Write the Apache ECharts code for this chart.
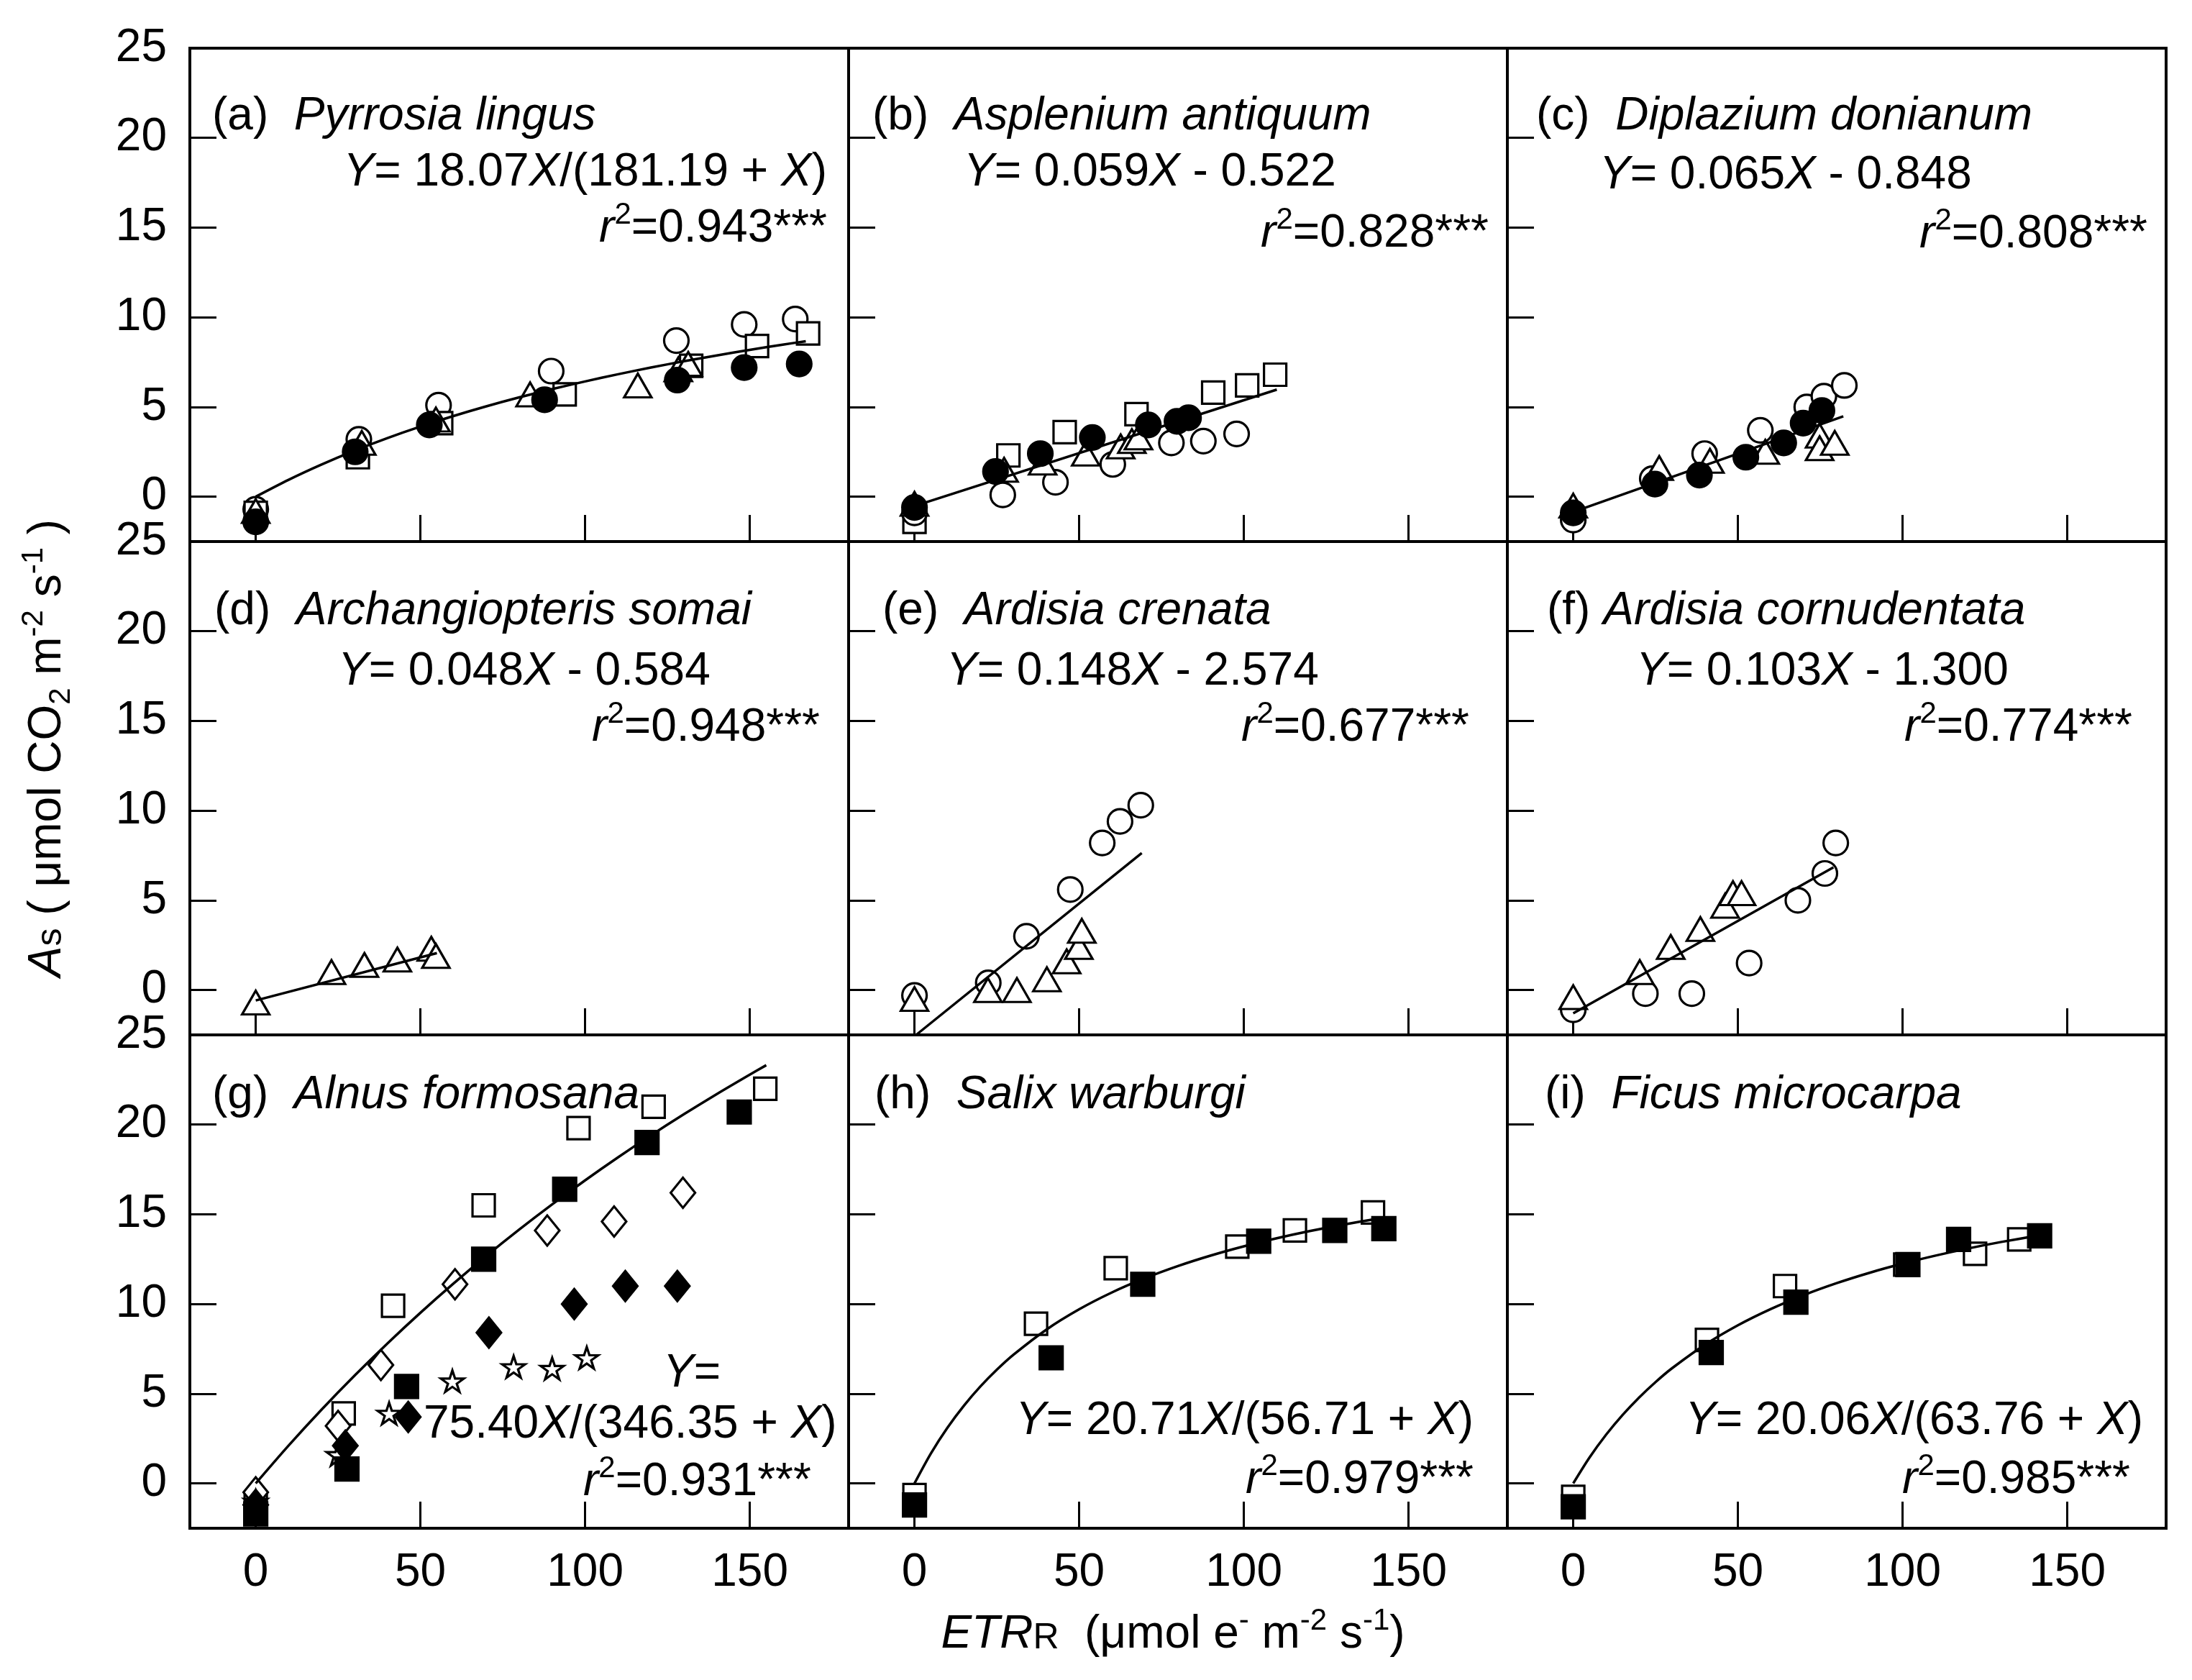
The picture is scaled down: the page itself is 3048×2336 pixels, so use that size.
<!DOCTYPE html>
<html><head><meta charset="utf-8">
<script src="https://cdn.jsdelivr.net/npm/echarts@6/dist/echarts.min.js"></script>
<style>html,body{margin:0;padding:0;background:#fff}#c{width:3048px;height:2336px}</style>
</head><body><div id="c"></div>
<script>
// ---------------- DATA ----------------
const xTicks = [0, 50, 100, 150];
const yTicks = [0, 5, 10, 15, 20, 25];

// (a) Pyrrosia lingus
const aOpenCircle   = [[0,-0.7],[31.3,3.2],[55.5,5.1],[89.7,7.0],[127.7,8.7],[148.3,9.6],[163.8,9.9]];
const aOpenSquare   = [[0,-0.9],[31,2.2],[56.3,4.1],[93.8,5.7],[132.2,7.3],[152.2,8.4],[167.7,9.1]];
const aOpenTriangle = [[0,-0.8],[32.2,3.0],[54.7,4.3],[83.3,5.7],[116,6.2],[128.3,7.1],[131.3,7.4]];
const aFilledCircle = [[0,-1.4],[30.2,2.5],[52.7,4.0],[87.7,5.4],[128,6.5],[148.3,7.2],[165,7.4]];
const aFitCurve     = [[0,0],[10,0.945],[20,1.796],[30,2.567],[40,3.268],[50,3.908],[60,4.495],[70,5.036],[80,5.535],
  [90,5.997],[100,6.426],[110,6.826],[120,7.199],[130,7.549],[140,7.876],[150,8.184],[160,8.474],[167,8.667]];

// (b) Asplenium antiquum
const bOpenSquare   = [[0,-1.4],[28.5,2.3],[45.6,3.6],[67.4,4.6],[90.7,5.8],[101,6.2],[109.5,6.8]];
const bOpenCircle   = [[0,-0.9],[26.8,0.1],[42.8,0.8],[60.2,1.8],[78,3.0],[87.7,3.1],[97.8,3.5]];
const bOpenTriangle = [[0,-0.4],[27.2,1.5],[38.9,1.9],[52,2.4],[62.6,2.8],[66,3.1],[68,3.3]];
const bFilledCircle = [[0,-0.6],[24.6,1.4],[38.2,2.4],[54,3.3],[71,4.0],[79.7,4.2],[83.2,4.4]];
const bFitLine      = [[0,-0.52],[110,5.97]];

// (c) Diplazium donianum
const cOpenCircle   = [[0,-1.3],[24,1.0],[39.9,2.4],[56.8,3.7],[70.9,5.0],[76.1,5.6],[82.3,6.2]];
const cOpenTriangle = [[0,-0.5],[26.1,1.6],[41.5,2.0],[58.3,2.5],[74.8,3.4],[74.8,2.7],[79.4,3.0]];
const cFilledCircle = [[0,-0.9],[24.8,0.7],[38.3,1.2],[52.4,2.2],[63.9,3.0],[69.8,4.1],[75.5,4.8]];
const cFitLine      = [[0,-0.85],[82,4.48]];

// (d) Archangiopteris somai
const dOpenTriangle = [[0,-0.7],[23,1.0],[33,1.4],[43,1.7],[53.3,2.3],[54.7,1.9]];
const dFitLine      = [[0,-0.58],[55,2.06]];

// (e) Ardisia crenata
const eOpenCircle   = [[0,-0.3],[22.4,0.4],[34,3.0],[47.3,5.6],[57,8.2],[62.4,9.4],[68.7,10.3]];
const eOpenTriangle = [[0,-0.5],[22.3,0.0],[31.1,0.0],[40.2,0.6],[46.2,1.6],[49.9,2.4],[50.8,3.3]];
const eFitLine      = [[0.5,-2.5],[69,7.64]];

// (f) Ardisia cornudentata
const fOpenCircle   = [[0,-1.1],[21.9,-0.2],[36,-0.2],[53.4,1.5],[68.2,5.0],[76.4,6.5],[79.7,8.2]];
const fOpenTriangle = [[0,-0.4],[20.2,1.0],[29.6,2.4],[38.6,3.4],[46.1,4.7],[48.5,5.4],[51.1,5.4]];
const fFitLine      = [[0,-1.3],[79,6.84]];

// (g) Alnus formosana
const gOpenSquare    = [[0,-1.2],[26.7,3.9],[41.7,9.9],[69.2,15.5],[98,19.8],[120.8,21.0],[154.7,22.0]];
const gOpenDiamond   = [[0,-0.5],[25,3.2],[38,6.6],[60.5,11.1],[88.5,14.1],[108.8,14.6],[129.7,16.2]];
const gOpenStar      = [[0,-1.0],[25,1.6],[40.5,3.9],[59.7,5.7],[78.3,6.5],[90,6.4],[100.5,7.0]];
const gFilledDiamond = [[0,-1.2],[27.2,2.1],[46.3,3.7],[70.8,8.4],[96.7,10.0],[112.2,11.0],[128,11.0]];
const gFilledSquare  = [[0,-1.7],[27.7,0.8],[45.8,5.4],[69.2,12.5],[93.8,16.4],[118.8,19.0],[146.8,20.7]];
const gFitCurve      = [[0,0],[10,2.116],[20,4.116],[30,6.010],[40,7.806],[50,9.512],[60,11.133],[70,12.677],
  [80,14.148],[90,15.552],[100,16.893],[110,18.175],[120,19.402],[130,20.577],[140,21.705],[150,22.786],[155,23.311]];

// (h) Salix warburgi
const hOpenSquare   = [[0,-0.65],[36.9,8.9],[61.1,12.0],[98,13.2],[115.5,14.1],[139.2,15.1]];
const hFilledSquare = [[0,-1.2],[41.5,7.0],[69.3,11.1],[104.5,13.5],[127.6,14.1],[142.5,14.2]];
const hFitCurve     = [[0,0],[5,1.678],[10,3.104],[15,4.332],[20,5.400],[25,6.336],[30,7.165],[40,8.566],[50,9.704],
  [60,10.647],[70,11.441],[80,12.119],[90,12.705],[100,13.216],[110,13.665],[120,14.064],[130,14.420],[142,14.800]];

// (i) Ficus microcarpa
const iOpenSquare   = [[0,-0.75],[40.6,8.0],[64.3,11.0],[100.8,12.2],[122,12.8],[135.4,13.6]];
const iFilledSquare = [[0,-1.3],[41.9,7.3],[67.6,10.1],[101.6,12.2],[117,13.6],[141.6,13.8]];
const iFitCurve     = [[0,0],[5,1.459],[10,2.720],[15,3.820],[20,4.790],[25,5.650],[30,6.419],[40,7.733],[50,8.817],
  [60,9.725],[70,10.498],[80,11.163],[90,11.742],[100,12.250],[110,12.699],[120,13.100],[130,13.459],[142,13.844]];

// Texts
const panelLetters = ['(a)','(b)','(c)','(d)','(e)','(f)','(g)','(h)','(i)'];
const speciesNames = ['Pyrrosia lingus','Asplenium antiquum','Diplazium donianum','Archangiopteris somai',
  'Ardisia crenata','Ardisia cornudentata','Alnus formosana','Salix warburgi','Ficus microcarpa'];
const equations = [
  ['{i|Y}= 18.07{i|X}/(181.19 + {i|X})'],
  ['{i|Y}= 0.059{i|X} - 0.522'],
  ['{i|Y}= 0.065{i|X} - 0.848'],
  ['{i|Y}= 0.048{i|X} - 0.584'],
  ['{i|Y}= 0.148{i|X} - 2.574'],
  ['{i|Y}= 0.103{i|X} - 1.300'],
  ['{i|Y}=', '75.40{i|X}/(346.35 + {i|X})'],
  ['{i|Y}= 20.71{i|X}/(56.71 + {i|X})'],
  ['{i|Y}= 20.06{i|X}/(63.76 + {i|X})']
];
const r2Values = ['0.943','0.828','0.808','0.948','0.677','0.774','0.931','0.979','0.985'];

// ---------------- LAYOUT / STYLE ----------------
const FF = '"Liberation Sans", Arial, Helvetica, sans-serif';
const FS = 64;
const GL = 264, GT = 67, GW = 916, GH = 686;
const starPath = 'path://M50,0 L61.2,34.5 L97.6,34.5 L68.2,55.9 L79.4,90.5 L50,69.1 L20.6,90.5 L31.8,55.9 L2.4,34.5 L38.8,34.5 Z';
const MK = {
  openCircle:    {symbol:'circle', size:34, fill:'#fff'},
  filledCircle:  {symbol:'circle', size:34, fill:'#000'},
  openSquare:    {symbol:'rect', size:31, fill:'#fff'},
  filledSquare:  {symbol:'rect', size:32, fill:'#000'},
  openTriangle:  {symbol:'triangle', size:[38,33], fill:'#fff'},
  openDiamond:   {symbol:'diamond', size:[34,42], fill:'#fff'},
  filledDiamond: {symbol:'diamond', size:[34,42], fill:'#000'},
  openStar:      {symbol:starPath, size:[32,30], fill:'#fff'}
};
const panelSeries = [
  [['openCircle',aOpenCircle],['openSquare',aOpenSquare],['openTriangle',aOpenTriangle],['filledCircle',aFilledCircle],['curve',aFitCurve]],
  [['openSquare',bOpenSquare],['openCircle',bOpenCircle],['openTriangle',bOpenTriangle],['filledCircle',bFilledCircle],['line',bFitLine]],
  [['openCircle',cOpenCircle],['openTriangle',cOpenTriangle],['filledCircle',cFilledCircle],['line',cFitLine]],
  [['openTriangle',dOpenTriangle],['line',dFitLine]],
  [['openCircle',eOpenCircle],['openTriangle',eOpenTriangle],['line',eFitLine]],
  [['openCircle',fOpenCircle],['openTriangle',fOpenTriangle],['line',fFitLine]],
  [['openSquare',gOpenSquare],['openDiamond',gOpenDiamond],['openStar',gOpenStar],['filledDiamond',gFilledDiamond],['filledSquare',gFilledSquare],['curve',gFitCurve]],
  [['openSquare',hOpenSquare],['filledSquare',hFilledSquare],['curve',hFitCurve]],
  [['openSquare',iOpenSquare],['filledSquare',iFilledSquare],['curve',iFitCurve]]
];
// text placement: [x, y, align]
const textPos = [
  {t:[295,162], e:[[1150,240,'right']], r:[1150,318,'right']},
  {t:[1213,162], e:[[1340,240,'left']], r:[2070,325,'right']},
  {t:[2136,162], e:[[2224,244,'left']], r:[2986,326,'right']},
  {t:[298,850], e:[[470,934,'left']], r:[1140,1012,'right']},
  {t:[1227,850], e:[[1316,934,'left']], r:[2043,1012,'right']},
  {t:[2151,850], e:[[2275,934,'left']], r:[2965,1012,'right']},
  {t:[295,1523], e:[[922,1910,'left'],[589,1981,'left']], r:[811,2061,'left']},
  {t:[1216,1523], e:[[2049,1976,'right']], r:[2049,2058,'right']},
  {t:[2148,1523], e:[[2980,1976,'right']], r:[2962,2058,'right']}
];

const RICH = {
  i:   {fontStyle:'italic', fontSize:FS, fontFamily:FF, fill:'#000'},
  sup: {fontSize:42, lineHeight:42, fontFamily:FF, fill:'#000', verticalAlign:'top'},
  sub: {fontSize:42, lineHeight:42, fontFamily:FF, fill:'#000', verticalAlign:'bottom'},
  sm:  {fontSize:50, fontFamily:FF, fill:'#000', verticalAlign:'middle', padding:[10,0,0,0]}
};
function txt(x, y, text, align, rot, lh) {
  const st = {text:text, fill:'#000', fontSize:FS, fontFamily:FF, align:align||'left', verticalAlign:'middle', rich:RICH};
  if (lh) st.lineHeight = lh;
  return {type:'text', x:x, y:y, rotation: rot || 0, z:100, style:st};
}

// ---------------- BUILD ----------------
const grids = [], xAxes = [], yAxes = [], series = [], graphics = [];
for (let p = 0; p < 9; p++) {
  const row = Math.floor(p / 3), col = p % 3;
  grids.push({left:GL + col*GW, top:GT + row*GH, width:GW, height:GH, show:true,
    borderColor:'#000', borderWidth:4, backgroundColor:'transparent', containLabel:false, outerBoundsMode:'none'});
  xAxes.push({type:'value', gridIndex:p, min:-20, max:180, position:'bottom',
    axisLine:{show:false, onZero:false}, splitLine:{show:false},
    axisTick:{show:true, inside:true, length:37, customValues:xTicks, lineStyle:{color:'#000', width:3}},
    axisLabel:{show: row === 2, customValues:xTicks, fontSize:FS, fontFamily:FF, color:'#000', margin:30}});
  yAxes.push({type:'value', gridIndex:p, min:-2.5, max:25, position:'left',
    axisLine:{show:false, onZero:false}, splitLine:{show:false},
    axisTick:{show:true, inside:true, length:37, customValues:yTicks, lineStyle:{color:'#000', width:3}},
    axisLabel:{show: col === 0, customValues:yTicks, fontSize:FS, fontFamily:FF, color:'#000', margin:32}});
  panelSeries[p].forEach(function (s) {
    const kind = s[0], data = s[1];
    if (kind === 'curve' || kind === 'line') {
      series.push({type:'line', xAxisIndex:p, yAxisIndex:p, data:data, showSymbol:false, symbol:'none',
        smooth: kind === 'curve' ? 0.3 : false, clip:true, silent:true,
        lineStyle:{color:'#000', width:3.5}, z:3});
    } else {
      const m = MK[kind];
      series.push({type:'scatter', xAxisIndex:p, yAxisIndex:p, data:data, symbol:m.symbol, symbolSize:m.size,
        itemStyle:{color:m.fill, borderColor:'#000', borderWidth:3.2, opacity:1}, silent:true, z:2});
    }
  });
  const tp = textPos[p];
  const sep = p === 5 ? ' ' : '  ';
  graphics.push(txt(tp.t[0], tp.t[1], panelLetters[p] + sep + '{i|' + speciesNames[p] + '}', 'left'));
  equations[p].forEach(function (line, k) {
    const e = tp.e[k];
    graphics.push(txt(e[0], e[1], line, e[2]));
  });
  graphics.push(txt(tp.r[0], tp.r[1], '{i|r}{sup|2}=' + r2Values[p] + '***', tp.r[2], 0, 80));
}
// axis titles
graphics.push(txt(1631, 2273, '{i|ETR}{sm|R}  (\u03bcmol e{sup|-} m{sup|-2} s{sup|-1})', 'center', 0, 80));
graphics.push(txt(66, 1040, '{i|A}{sm|s} ( \u03bcmol CO{sub|2} m{sup|-2} s{sup|-1} )', 'center', Math.PI/2, 80));

const chart = echarts.init(document.getElementById('c'), null, {renderer:'canvas'});
chart.setOption({
  animation:false,
  backgroundColor:'#fff',
  grid:grids, xAxis:xAxes, yAxis:yAxes, series:series,
  graphic:graphics
});
</script></body></html>
